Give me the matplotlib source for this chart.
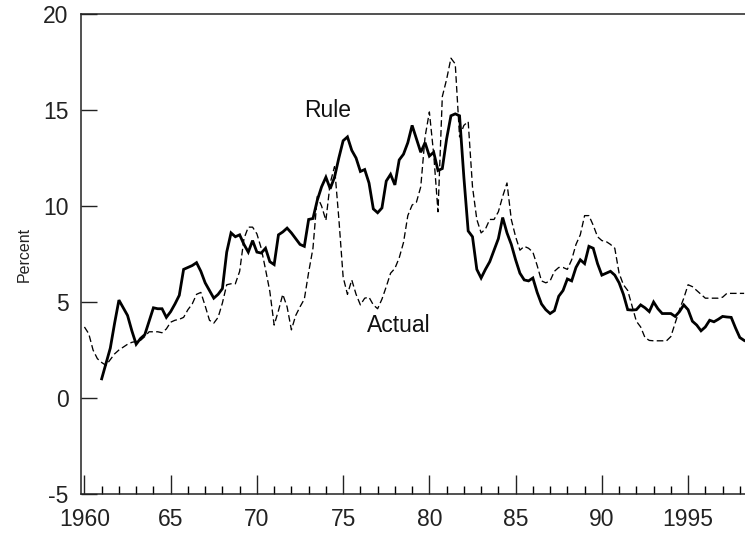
"""Policy rule vs actual federal funds rate, quarterly."""
import matplotlib.pyplot as plt
import numpy as np
from matplotlib.ticker import FixedLocator, MultipleLocator

plt.rcParams["font.family"] = ["Liberation Sans", "DejaVu Sans"]
plt.rcParams["axes.unicode_minus"] = False

# actual federal funds rate, quarterly from 1960Q1
actual_start = 1960.0
actual = [
    3.70, 3.35, 2.50, 2.05,   # 1960
    1.85, 1.70, 2.00, 2.30,   # 1961
    2.50, 2.65, 2.80, 2.90,   # 1962
    2.95, 3.00, 3.20, 3.45,   # 1963
    3.45, 3.45, 3.40, 3.60,   # 1964
    3.95, 4.05, 4.10, 4.20,   # 1965
    4.60, 4.90, 5.40, 5.50,   # 1966
    4.80, 4.05, 3.90, 4.20,   # 1967
    4.95, 5.90, 5.95, 5.95,   # 1968
    6.60, 8.30, 8.90, 8.90,   # 1969
    8.55, 7.80, 6.70, 5.55,   # 1970
    3.80, 4.55, 5.40, 4.75,   # 1971
    3.55, 4.30, 4.75, 5.15,   # 1972
    6.55, 7.80, 10.50, 10.00,  # 1973
    9.25, 11.20, 12.05, 9.35,  # 1974
    6.30, 5.40, 6.15, 5.40,   # 1975
    4.85, 5.20, 5.25, 4.85,   # 1976
    4.65, 5.15, 5.80, 6.50,   # 1977
    6.75, 7.30, 8.10, 9.50,   # 1978
    10.05, 10.20, 11.00, 13.60,  # 1979
    14.90, 12.70, 9.70, 15.70,   # 1980
    16.60, 17.70, 17.40, 13.60,  # 1981
    14.20, 14.40, 11.00, 9.30,   # 1982
    8.60, 8.80, 9.30, 9.30,   # 1983
    9.70, 10.50, 11.20, 9.30,  # 1984
    8.40, 7.70, 7.90, 7.80,   # 1985
    7.60, 6.90, 6.10, 6.00,   # 1986
    6.10, 6.60, 6.80, 6.80,   # 1987
    6.70, 7.20, 8.00, 8.50,   # 1988
    9.50, 9.50, 9.00, 8.40,   # 1989
    8.20, 8.15, 8.00, 7.80,   # 1990
    6.50, 5.90, 5.60, 4.80,   # 1991
    4.00, 3.70, 3.15, 3.00,   # 1992
    2.98, 2.98, 2.98, 2.98,   # 1993
    3.20, 3.90, 4.60, 5.20,   # 1994
    5.90, 5.80, 5.60, 5.40,   # 1995
    5.20, 5.20, 5.20, 5.20,   # 1996
    5.25, 5.45, 5.45, 5.45,   # 1997
    5.45, 5.45,               # 1998
]

# policy rule prescription, quarterly from 1961Q1
rule_start = 1961.0
rule = [
    1.00, 1.80, 2.60, 3.90,   # 1961
    5.10, 4.70, 4.30, 3.50,   # 1962
    2.80, 3.10, 3.30, 4.00,   # 1963
    4.70, 4.65, 4.65, 4.20,   # 1964
    4.50, 4.90, 5.35, 6.70,   # 1965
    6.80, 6.90, 7.05, 6.60,   # 1966
    6.00, 5.60, 5.20, 5.40,   # 1967
    5.70, 7.60, 8.60, 8.40,   # 1968
    8.50, 8.00, 7.60, 8.20,   # 1969
    7.60, 7.55, 7.80, 7.10,   # 1970
    6.95, 8.50, 8.65, 8.85,   # 1971
    8.60, 8.30, 8.00, 7.90,   # 1972
    9.30, 9.35, 10.30, 11.00,  # 1973
    11.50, 10.90, 11.50, 12.50,  # 1974
    13.40, 13.60, 12.90, 12.50,  # 1975
    11.80, 11.90, 11.20, 9.85,   # 1976
    9.65, 9.90, 11.30, 11.65,    # 1977
    11.10, 12.40, 12.70, 13.30,  # 1978
    14.20, 13.50, 12.80, 13.30,  # 1979
    12.60, 12.80, 11.85, 11.95,  # 1980
    13.50, 14.70, 14.80, 14.70,  # 1981
    11.50, 8.70, 8.40, 6.70,     # 1982
    6.25, 6.70, 7.10, 7.70,      # 1983
    8.30, 9.40, 8.60, 8.00,      # 1984
    7.20, 6.50, 6.15, 6.10,      # 1985
    6.25, 5.50, 4.90, 4.60,      # 1986
    4.40, 4.55, 5.30, 5.60,      # 1987
    6.20, 6.10, 6.80, 7.20,      # 1988
    7.00, 7.90, 7.80, 7.00,      # 1989
    6.40, 6.50, 6.60, 6.40,      # 1990
    6.00, 5.40, 4.60, 4.58,      # 1991
    4.60, 4.85, 4.70, 4.50,      # 1992
    5.00, 4.65, 4.40, 4.40,      # 1993
    4.40, 4.25, 4.50, 4.85,      # 1994
    4.60, 4.00, 3.80, 3.50,      # 1995
    3.70, 4.05, 3.97, 4.10,      # 1996
    4.25, 4.22, 4.20, 3.65,      # 1997
    3.15, 3.00,                  # 1998
]

actual_x = actual_start + np.arange(len(actual)) / 4
rule_x = rule_start + np.arange(len(rule)) / 4

major_years = [1960, 1965, 1970, 1975, 1980, 1985, 1990, 1995]
major_labels = ["1960", "65", "70", "75", "80", "85", "90", "1995"]
y_ticks = [-5, 0, 5, 10, 15, 20]

fig = plt.figure(figsize=(7.45, 5.35), dpi=100)
ax = fig.add_axes([0.1087, 0.0766, 0.8913, 0.8972])

ax.plot(actual_x, actual, color="black", linewidth=0.95, linestyle=(0, (5, 2.5)))
ax.plot(rule_x, rule, color="black", linewidth=2.0, solid_joinstyle="miter")

ax.text(1974.1, 15.0, "Rule", fontsize=16.5, ha="center", va="center", color="#111111")
ax.text(1978.2, 3.8, "Actual", fontsize=16.5, ha="center", va="center", color="#111111")

ax.set_xlim(1959.8, 1998.3)
ax.set_ylim(-5, 20)

ax.xaxis.set_major_locator(FixedLocator(major_years))
ax.set_xticklabels(major_labels)
ax.xaxis.set_minor_locator(MultipleLocator(1))
ax.set_yticks(y_ticks)

ax.tick_params(axis="x", which="major", direction="in", length=13.5, width=1.0,
               labelsize=16.5, pad=10, colors="#222222")
ax.tick_params(axis="x", which="minor", direction="in", length=5.8, width=1.0)
ax.tick_params(axis="y", which="major", direction="in", length=11.5, width=1.0,
               labelsize=16.5, pad=9, colors="#222222")

ax.set_ylabel("Percent", fontsize=11.5, labelpad=8, color="#222222")

ax.spines["right"].set_visible(False)
for side in ("left", "bottom", "top"):
    ax.spines[side].set_linewidth(1.1)
    ax.spines[side].set_color("#222222")

fig.savefig("out.png", dpi=100)
